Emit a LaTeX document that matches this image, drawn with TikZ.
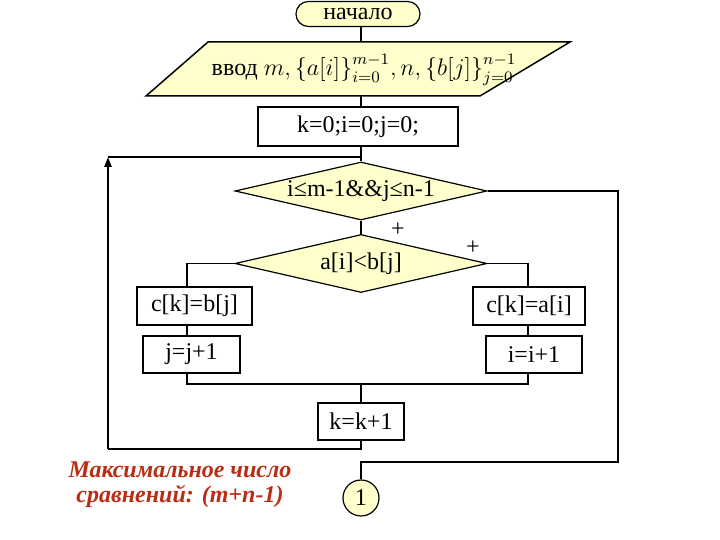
\documentclass[tikz,border=0pt]{standalone}
\usepackage{fontspec}
\setmainfont{Liberation Serif}
\usetikzlibrary{arrows.meta, shapes.geometric}

\definecolor{blockfill}{RGB}{255,255,204}
\definecolor{notered}{RGB}{185,45,20}

\begin{document}
\begin{tikzpicture}[
  x=0.5pt, y=-0.5pt,
  every node/.style={font=\fontsize{12}{12.5}\selectfont},
  box/.style={draw, rectangle, align=center, inner sep=0pt, line width=0.75pt},
  boldbox/.style={box, line width=1.3pt},
  cond/.style={draw, diamond, aspect=4.3, inner sep=0pt, fill=blockfill, minimum width=126pt, minimum height=29pt, line width=0.6pt},
  line/.style={line width=0.75pt},
  arrow/.style={-{Triangle[length=5pt,width=3.5pt]}, line width=1.1pt}
]
\useasboundingbox (0,0) rectangle (720,540);

% Start and input
\node[box, fill=blockfill, line width=0.6pt, rounded corners=6.2pt, minimum width=62pt, minimum height=12.5pt] (start) at (358,14) {начало};
\draw[line, fill=blockfill] (208,42) -- (570,42) -- (480,96) -- (146,96) -- cycle;
\node (input) at (364,70) {ввод $m,\bigl\{a[i]\bigr\}_{i=0}^{m-1},n,\bigl\{b[j]\bigr\}_{j=0}^{n-1}$};
\coordinate (inTop) at (361,42);
\coordinate (inBot) at (361,96);

% Init
\node[boldbox, minimum width=100pt, minimum height=19.5pt] (init) at (358,126.5) {k=0;i=0;j=0;};

% Conditions
\node[cond] (cond1) at (361,191) {i≤m-1\&\&j≤n-1};
\node[cond] (cond2) at (361,263.5) {a[i]<b[j]};
\node (plus1) at (398,230) {+};
\node (plus2) at (473,248) {+};

% Branches
\node[box, minimum width=57.5pt, minimum height=19pt] (setb) at (194.5,306) {c[k]=b[j]};
\node[box, minimum width=56pt, minimum height=19pt] (seta) at (529,306) {c[k]=a[i]};
\node[box, minimum width=48.5pt, minimum height=18.5pt] (incj) at (191.5,354.5) {j=j+1};
\node[box, minimum width=48pt, minimum height=18.5pt] (inci) at (534,354.5) {i=i+1};
\coordinate (colL) at (187,263.5);
\coordinate (colR) at (528,263.5);
\coordinate (mergeL) at (187,384);
\coordinate (mergeR) at (528,384);

% Counter and connector
\node[boldbox, minimum width=43pt, minimum height=18.5pt] (inck) at (361,421.5) {k=k+1};
\node[draw, circle, fill=blockfill, line width=0.6pt, minimum size=18pt, inner sep=0pt] (conn) at (361,498) {1};
\coordinate (loopB) at (108,449);
\coordinate (loopT) at (108,157);
\coordinate (exitR) at (618,462);

% Note
\node[align=center, text=notered, font=\fontsize{12}{12.5}\selectfont\bfseries\itshape] (note) at (180,485) {Максимальное число\\сравнений: (m+n-1)};

% Arrows
\draw[line] (inTop |- start.south) -- (inTop);
\draw[line] (inBot) -- (inBot |- init.north);
\draw[line] (inBot |- init.south) -- (cond1.north);
\draw[line] (cond1.south) -- (cond2.north);
\draw[line] (cond2.west) -- (colL) -- (colL |- setb.north);
\draw[line] (cond2.east) -- (colR) -- (colR |- seta.north);
\draw[line] (colL |- setb.south) -- (colL |- incj.north);
\draw[line] (colR |- seta.south) -- (colR |- inci.north);
\draw[line] (colL |- incj.south) -- (mergeL) -- (mergeR) -- (colR |- inci.south);
\draw[line] (mergeL -| inck.north) -- (inck.north);
\draw[line] (inck.south) |- (loopB);
\draw[arrow] (loopB) -- (loopT);
\draw[line] (loopT) -- (loopT -| cond1.north);
\draw[line] (cond1.east) -| (exitR) -| (conn.north);

\end{tikzpicture}
\end{document}
